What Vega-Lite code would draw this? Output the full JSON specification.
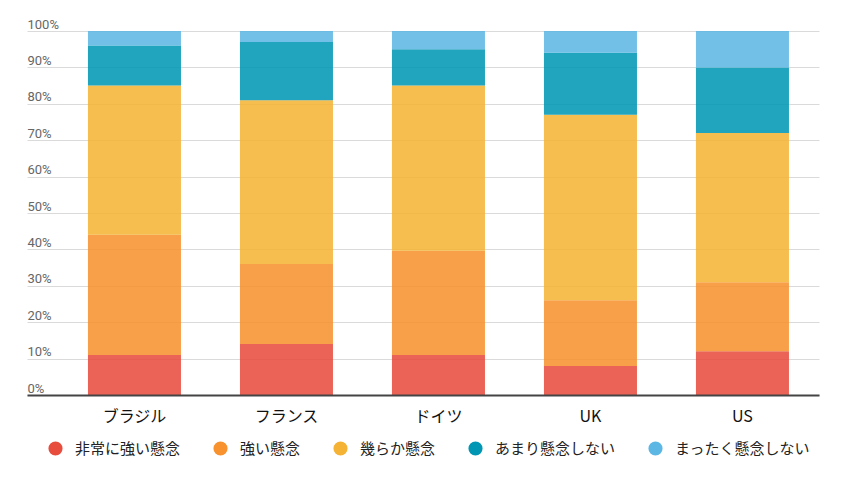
{
  "$schema": "https://vega.github.io/schema/vega-lite/v6.json",
  "autosize": {"type": "none"},
  "padding": {"left": 27, "top": 31, "right": 32, "bottom": 88},
  "width": 792,
  "height": 364,
  "background": "white",
  "config": {"view": {"stroke": null}},
  "data": {
    "values": [
      {"country": "ブラジル", "level": "非常に強い懸念", "rank": 1, "value": 11},
      {"country": "ブラジル", "level": "強い懸念", "rank": 2, "value": 33},
      {"country": "ブラジル", "level": "幾らか懸念", "rank": 3, "value": 41},
      {"country": "ブラジル", "level": "あまり懸念しない", "rank": 4, "value": 11},
      {"country": "ブラジル", "level": "まったく懸念しない", "rank": 5, "value": 4},
      {"country": "フランス", "level": "非常に強い懸念", "rank": 1, "value": 14},
      {"country": "フランス", "level": "強い懸念", "rank": 2, "value": 22},
      {"country": "フランス", "level": "幾らか懸念", "rank": 3, "value": 45},
      {"country": "フランス", "level": "あまり懸念しない", "rank": 4, "value": 16},
      {"country": "フランス", "level": "まったく懸念しない", "rank": 5, "value": 3},
      {"country": "ドイツ", "level": "非常に強い懸念", "rank": 1, "value": 11},
      {"country": "ドイツ", "level": "強い懸念", "rank": 2, "value": 28.6},
      {"country": "ドイツ", "level": "幾らか懸念", "rank": 3, "value": 45.4},
      {"country": "ドイツ", "level": "あまり懸念しない", "rank": 4, "value": 10},
      {"country": "ドイツ", "level": "まったく懸念しない", "rank": 5, "value": 5},
      {"country": "UK", "level": "非常に強い懸念", "rank": 1, "value": 8},
      {"country": "UK", "level": "強い懸念", "rank": 2, "value": 18},
      {"country": "UK", "level": "幾らか懸念", "rank": 3, "value": 51},
      {"country": "UK", "level": "あまり懸念しない", "rank": 4, "value": 17},
      {"country": "UK", "level": "まったく懸念しない", "rank": 5, "value": 6},
      {"country": "US", "level": "非常に強い懸念", "rank": 1, "value": 12},
      {"country": "US", "level": "強い懸念", "rank": 2, "value": 19},
      {"country": "US", "level": "幾らか懸念", "rank": 3, "value": 41},
      {"country": "US", "level": "あまり懸念しない", "rank": 4, "value": 18},
      {"country": "US", "level": "まったく懸念しない", "rank": 5, "value": 10}
    ]
  },
  "mark": {"type": "bar", "opacity": 0.87},
  "encoding": {
    "x": {
      "field": "country",
      "type": "nominal",
      "sort": ["ブラジル", "フランス", "ドイツ", "UK", "US"],
      "scale": {"paddingInner": 0.388, "paddingOuter": 0.2993, "align": 0.67},
      "axis": {
        "title": null,
        "labelAngle": 0,
        "ticks": false,
        "domainColor": "#444444",
        "domainWidth": 2,
        "labelFont": "Noto Sans CJK JP",
        "labelFontSize": 16,
        "labelColor": "#111111",
        "labelPadding": 13,
        "grid": false,
        "zindex": 1
      }
    },
    "y": {
      "field": "value",
      "type": "quantitative",
      "stack": "zero",
      "scale": {"domain": [0, 100], "nice": false},
      "axis": {
        "title": null,
        "values": [0, 10, 20, 30, 40, 50, 60, 70, 80, 90, 100],
        "labelExpr": "datum.value + '%'",
        "domain": false,
        "ticks": false,
        "grid": true,
        "gridColor": "#dadada",
        "gridWidth": 1,
        "labelAlign": "left",
        "labelBaseline": "alphabetic",
        "labelPadding": 0,
        "labelOffset": -3,
        "labelFont": "Roboto",
        "labelFontSize": 13,
        "labelColor": "#666666"
      }
    },
    "order": {"field": "rank", "type": "quantitative", "sort": "ascending"},
    "color": {
      "field": "level",
      "type": "nominal",
      "sort": ["非常に強い懸念", "強い懸念", "幾らか懸念", "あまり懸念しない", "まったく懸念しない"],
      "scale": {
        "domain": ["非常に強い懸念", "強い懸念", "幾らか懸念", "あまり懸念しない", "まったく懸念しない"],
        "range": ["#e84c3d", "#f7922e", "#f5b335", "#0096b4", "#5db7e5"]
      },
      "legend": {
        "title": null,
        "orient": "none",
        "legendX": 21,
        "legendY": 410,
        "direction": "horizontal",
        "columns": 5,
        "gridAlign": "none",
        "columnPadding": 32,
        "symbolType": "circle",
        "symbolSize": 200,
        "symbolStrokeWidth": 0,
        "symbolOpacity": 1,
        "labelFont": "Noto Sans CJK JP",
        "labelFontSize": 15,
        "labelColor": "#222222",
        "labelOffset": 12,
        "labelLimit": 200,
        "padding": 0
      }
    }
  }
}
